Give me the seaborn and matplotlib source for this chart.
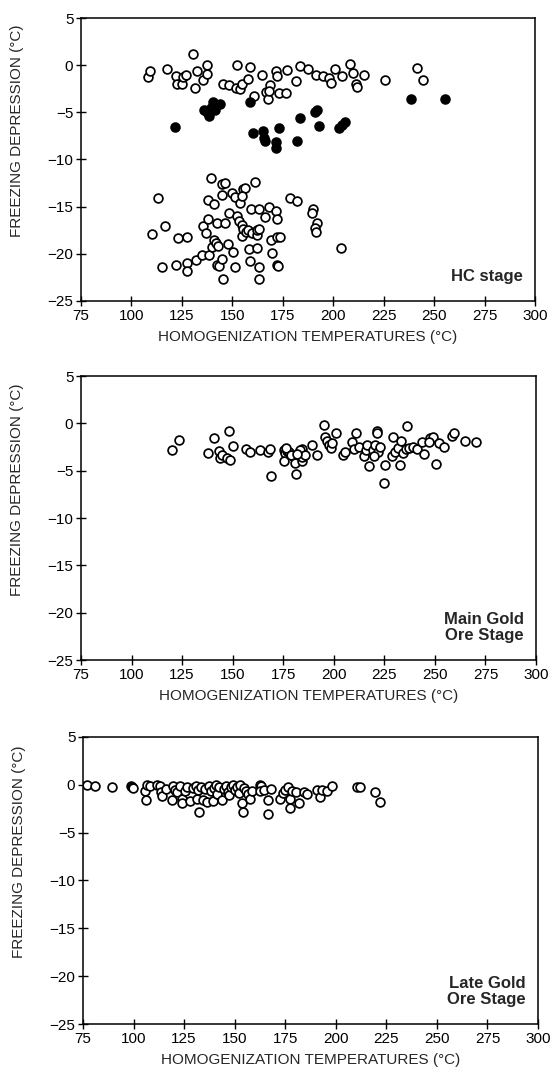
import numpy as np
import pandas as pd
import matplotlib
matplotlib.use("Agg")
import matplotlib.pyplot as plt
import seaborn as sns

# --- data (homogenization T, freezing depression) ---
hc_open_t = [108.4, 109.2, 117.8, 122.1, 122.7, 124.9, 125.7, 127.0, 130.6, 131.5,
             132.3, 135.3, 137.3, 137.6, 145.2, 148.5, 151.8, 153.8, 154.6, 152.1,
             157.9, 158.7, 160.7, 164.5, 166.7, 167.8, 168.7, 168.3, 171.6, 172.0,
             173.3, 176.6, 176.9, 181.5, 183.5, 187.6, 191.5, 195.1, 198.1, 198.8,
             200.9, 204.2, 208.3, 210.0, 211.3, 212.0, 215.2, 225.6, 241.3, 244.6,
             # lower cluster
             139.3, 144.7, 146.4, 155.4, 156.3, 161.2, 113.3, 138.1, 140.9, 144.7,
             149.7, 151.3, 153.8, 154.6, 159.1, 163.4, 166.2, 168.3, 171.6, 172.0,
             178.6, 182.2, 110.0, 116.6, 123.2, 127.4, 115.0, 122.1, 127.4, 127.4,
             132.0, 134.8, 135.3, 136.9, 138.1, 138.6, 139.8, 140.9, 142.2, 141.9,
             143.0, 146.4, 142.2, 143.5, 144.7, 145.2, 148.0, 148.5, 150.5, 151.3,
             152.1, 153.5, 154.6, 154.6, 155.4, 156.7, 157.9, 158.4, 158.7, 159.6,
             162.1, 162.4, 162.1, 163.4, 163.4, 163.4, 169.0, 169.5, 172.0, 173.6,
             172.0, 172.8, 190.1, 189.3, 191.8, 191.0, 191.5, 203.7]
hc_open_f = [-1.25, -0.6, -0.4, -1.1, -1.95, -2.0, -1.25, -1.0, 1.2, -2.4,
             -0.6, -1.6, -0.9, 0.0, -1.95, -2.1, -2.4, -2.55, -2.0, 0.0,
             -1.5, -0.2, -3.3, -1.0, -2.8, -3.6, -2.1, -2.7, -0.6, -1.1,
             -3.0, -3.0, -0.5, -1.7, -0.1, -0.4, -1.0, -1.1, -1.4, -1.85,
             -0.4, -1.1, 0.1, -0.8, -2.0, -2.3, -1.0, -1.6, -0.25, -1.6,
             -11.95, -12.55, -12.5, -13.1, -13.0, -12.4, -14.1, -14.25, -14.7, -13.8,
             -13.6, -14.0, -14.6, -13.9, -15.3, -15.3, -16.1, -15.0, -15.5, -16.3,
             -14.1, -14.4, -17.9, -17.1, -18.3, -18.2, -21.4, -21.2, -21.0, -21.8,
             -20.7, -20.1, -17.1, -17.8, -16.3, -20.1, -19.3, -18.5, -16.7, -18.9,
             -19.2, -16.7, -21.2, -21.3, -20.5, -22.7, -19.0, -15.7, -19.8, -21.35,
             -16.0, -16.5, -16.9, -18.1, -17.4, -17.7, -17.45, -19.5, -20.8, -17.8,
             -18.0, -17.45, -19.4, -21.35, -22.7, -17.4, -18.5, -19.9, -18.25, -18.2,
             -21.2, -21.3, -15.3, -15.7, -16.7, -17.3, -17.7, -19.4]

hc_fill_t = [121.6, 136.0, 137.3, 138.6, 140.3, 141.4, 143.9, 139.5, 158.7, 160.4,
             165.3, 165.7, 166.2, 171.6, 171.6, 173.3, 181.9, 183.5, 191.0, 192.1,
             193.1, 203.0, 204.2, 205.8, 238.4, 255.4]
hc_fill_f = [-6.6, -4.7, -5.0, -5.4, -3.9, -4.8, -4.1, -4.5, -3.9, -7.2,
             -7.0, -7.7, -8.0, -8.1, -8.8, -6.7, -8.0, -5.6, -5.0, -4.7,
             -6.45, -6.7, -6.35, -6.0, -3.6, -3.6]

main_t = [120.0, 123.3, 137.6, 140.6, 143.0, 143.9, 144.7, 148.0, 147.2, 148.5,
          150.2, 156.7, 158.7, 163.6, 167.3, 168.6, 168.9, 175.2, 176.0, 177.0,
          178.0, 175.2, 180.2, 181.0, 181.5, 184.3, 184.3, 183.4, 184.2, 186.0,
          189.2, 191.7, 195.0, 195.9, 196.5, 197.5, 198.5, 199.0, 201.2, 204.5,
          205.7, 209.0, 209.8, 211.1, 212.3, 214.8, 215.8, 216.5, 217.3, 219.5,
          220.5, 221.5, 221.5, 222.0, 223.0, 220.0, 225.4, 224.6, 229.5, 228.7,
          230.5, 232.0, 233.0, 234.0, 232.6, 236.2, 235.5, 237.0, 239.0, 241.0,
          244.5, 243.7, 247.8, 249.1, 247.0, 250.7, 251.9, 254.7, 258.5, 259.3,
          265.0, 270.4, 176.5, 179.0, 182.0]
main_f = [-2.8, -1.75, -3.1, -1.6, -2.9, -3.7, -3.35, -0.8, -3.7, -3.9,
          -2.4, -2.75, -3.0, -2.8, -3.0, -2.75, -5.6, -2.8, -3.1, -2.9,
          -3.0, -4.0, -3.6, -4.2, -5.35, -4.0, -2.75, -2.8, -3.6, -3.3,
          -2.3, -3.35, -0.2, -1.4, -1.9, -2.3, -2.6, -2.1, -1.0, -3.35,
          -3.0, -1.95, -2.75, -1.0, -2.5, -3.5, -2.8, -2.3, -4.5, -2.8,
          -2.3, -0.8, -1.0, -3.0, -2.5, -3.5, -4.4, -6.3, -1.4, -3.45,
          -3.0, -2.6, -1.9, -3.1, -4.4, -0.3, -2.7, -2.6, -2.5, -2.7,
          -3.2, -2.0, -1.5, -1.4, -2.0, -4.3, -2.05, -2.5, -1.35, -1.05,
          -1.85, -1.95, -2.6, -3.3, -3.2]

late_t = [77.1, 80.9, 89.2, 98.5, 99.1, 99.6, 105.7, 106.2, 106.8, 108.0,
          111.5, 113.0, 113.5, 114.0, 116.0, 118.9, 119.5, 120.5, 121.5, 123.0,
          123.9, 124.2, 125.5, 126.5, 128.0, 129.5, 131.0, 131.6, 132.0, 132.6,
          133.5, 134.5, 135.5, 136.5, 137.5, 138.2, 139.2, 140.0, 141.0, 141.5,
          142.5, 143.7, 144.5, 145.5, 146.5, 147.0, 148.0, 149.0, 150.0, 151.0,
          152.0, 152.5, 153.6, 154.0, 154.5, 155.5, 156.5, 157.7, 158.5, 162.6,
          163.2, 162.4, 164.5, 166.7, 166.7, 167.9, 172.5, 174.0, 175.0, 176.5,
          177.5, 177.5, 178.5, 180.5, 182.0, 184.5, 185.7, 190.7, 192.0, 193.2,
          195.6, 198.1, 210.5, 212.1, 219.6, 221.7]
late_f = [0.0, -0.1, -0.2, -0.1, -0.2, -0.3, -0.6, -1.6, 0.0, -0.1,
          0.0, -0.1, -0.8, -1.2, -0.4, -1.6, -0.1, -0.5, -0.8, -0.1,
          -1.5, -1.9, -0.6, -0.2, -1.7, -0.3, -0.1, -1.45, -0.5, -2.85,
          -0.2, -1.6, -0.4, -1.8, -0.1, -0.6, -1.7, -0.3, 0.0, -1.0,
          -0.2, -1.6, -0.4, -0.1, -0.7, -1.1, -0.2, 0.0, -0.5, -0.2,
          -0.9, 0.0, -1.85, -2.85, -0.3, -0.6, -1.0, -1.45, -0.6, 0.0,
          -0.1, -0.6, -0.5, -1.6, -3.1, -0.4, -1.45, -0.9, -0.5, -0.2,
          -1.5, -2.4, -0.6, -0.8, -1.85, -0.8, -1.0, -0.5, -1.25, -0.5,
          -0.65, -0.1, -0.25, -0.25, -0.75, -1.8]

x_ticks = [75, 100, 125, 150, 175, 200, 225, 250, 275, 300]
y_ticks = [5, 0, -5, -10, -15, -20, -25]
stage_labels = ["HC stage", "Main Gold\nOre Stage", "Late Gold\nOre Stage"]

sns.set_theme(style="ticks")
plt.rcParams["font.family"] = ["Liberation Sans", "DejaVu Sans"]
plt.rcParams["axes.unicode_minus"] = True

fig = plt.figure(figsize=(5.54, 10.73), dpi=100)
boxes = [
    [81 / 554, 1 - 301 / 1073, 454 / 554, 283 / 1073],
    [81 / 554, 1 - 660 / 1073, 455 / 554, 284 / 1073],
    [83 / 554, 1 - 1024 / 1073, 455 / 554, 287 / 1073],
]
axes = [fig.add_axes(b) for b in boxes]

open_sets = [(hc_open_t, hc_open_f), (main_t, main_f), (late_t, late_f)]
for i, ax in enumerate(axes):
    t, f = open_sets[i]
    df = pd.DataFrame({"T": t, "F": f})
    sns.scatterplot(data=df, x="T", y="F", ax=ax, s=40, color="white",
                    edgecolor="black", linewidth=1.25, zorder=3)
    if i == 0:
        dff = pd.DataFrame({"T": hc_fill_t, "F": hc_fill_f})
        sns.scatterplot(data=dff, x="T", y="F", ax=ax, s=40, color="black",
                        edgecolor="black", linewidth=1.25, zorder=4)

    ax.set_xlim(75, 300)
    ax.set_ylim(-25, 5)
    ax.set_xticks(x_ticks)
    ax.set_yticks(y_ticks)
    ax.set_yticklabels([str(v).replace("-", "\u2212") for v in y_ticks])
    ax.tick_params(direction="inout", length=7, width=1, labelsize=11,
                   colors="black", pad=2)
    for sp in ax.spines.values():
        sp.set_visible(True)
        sp.set_color("black")
        sp.set_linewidth(1.1)
    ax.set_xlabel("HOMOGENIZATION TEMPERATURES (\u00b0C)", fontsize=11, labelpad=5)
    ax.set_ylabel("FREEZING DEPRESSION (\u00b0C)", fontsize=11)
    ax.yaxis.set_label_coords(-0.125, 0.6)
    ax.text(294, -21.6 if i else -22.4, stage_labels[i], ha="right", va="center",
            fontsize=12, fontweight="bold", linespacing=1.1)

fig.savefig("out.png", dpi=100, facecolor="white")
